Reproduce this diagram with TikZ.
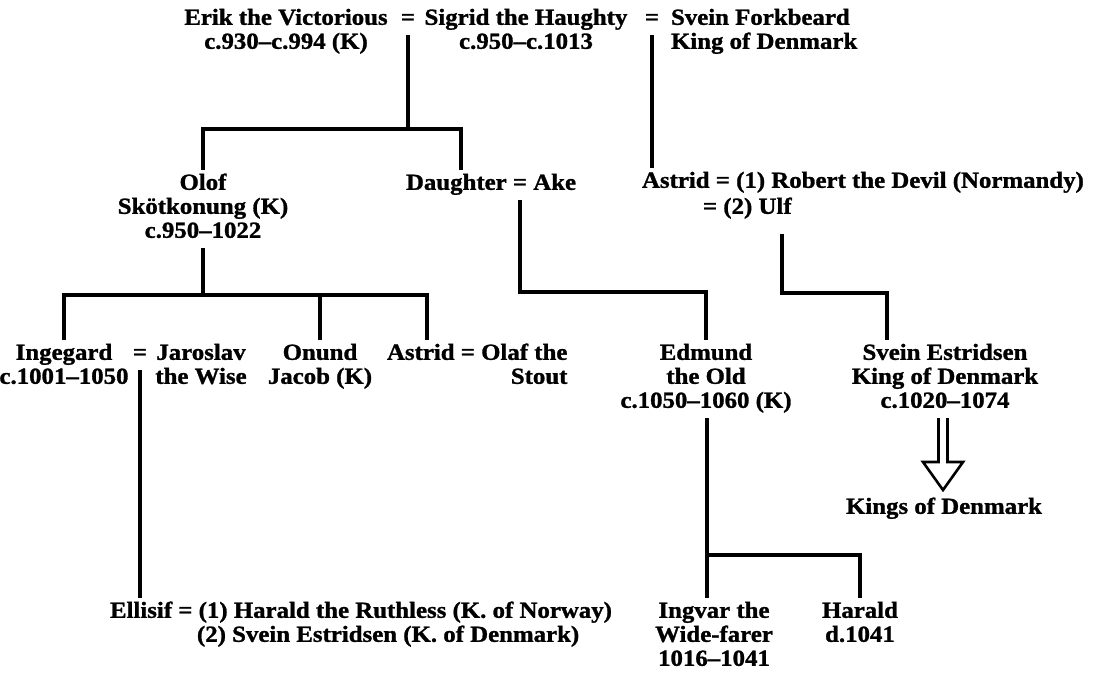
\documentclass[tikz,border=0pt]{standalone}
\usepackage{fontspec}
\setmainfont{Liberation Serif}[FakeStretch=1.08, BoldFeatures={FakeBold=1.2}]
\newcommand\pfont{\fontsize{23}{24}\selectfont\bfseries}
\begin{document}
\begin{tikzpicture}[x=1pt,y=-1pt,
  person/.style={font=\pfont, align=center, inner sep=0pt, outer sep=3pt},
  link/.style={line width=3.4pt, line cap=butt, line join=miter},
  hollow/.style={line width=2.6pt, line cap=butt, line join=miter}
]
\fill[white] (0,0) rectangle (1111,687);
\useasboundingbox (0,0) rectangle (1111,687);

% ---- generation 1
\node[person, anchor=north] (erik) at (286,5) {\strut Erik the Victorious\\c.930–c.994 (K)\strut};
\node[person, anchor=north] (eqES) at (408,5) {\strut=};
\node[person, anchor=north] (sigrid) at (526,5) {\strut Sigrid the Haughty\\c.950–c.1013\strut};
\node[person, anchor=north] (eqSS) at (652,5) {\strut=};
\node[person, anchor=north west, align=left] (svein) at (668,5) {\strut Svein Forkbeard\\King of Denmark};

% ---- generation 2
\node[person, anchor=north] (olof) at (203,170) {\strut Olof\\Skötkonung (K)\\c.950–1022\strut};
\node[person, anchor=north west] (daughter) at (403,170) {\strut Daughter = Ake};
\node[person, anchor=north west] (astridR) at (639,168) {\strut Astrid = (1) Robert the Devil (Normandy)};
\node[person, anchor=north west] (ulf) at (700,194) {\strut = (2) Ulf};

% ---- generation 3
\node[person, anchor=north] (ingegard) at (64,340) {\strut Ingegard\\c.1001–1050\strut};
\node[person, anchor=north] (eqIJ) at (140,340) {\strut=};
\node[person, anchor=north] (jaroslav) at (201,340) {\strut Jaroslav\\the Wise};
\node[person, anchor=north] (onund) at (320,340) {\strut Onund\\Jacob (K)};
\node[person, anchor=north west, align=right] (astridO) at (384,340) {\strut Astrid = Olaf the\\Stout};
\node[person, anchor=north] (edmund) at (706,340) {\strut Edmund\\the Old\\c.1050–1060 (K)\strut};
\node[person, anchor=north] (sveinE) at (945,340) {\strut Svein Estridsen\\King of Denmark\\c.1020–1074\strut};
\node[person, anchor=north] (kings) at (944,494) {\strut Kings of Denmark};

% ---- generation 4
\node[person, anchor=north west] (ellisif) at (107,598) {\strut Ellisif = (1) Harald the Ruthless (K. of Norway)};
\node[person, anchor=north west] (svein2) at (194,622) {\strut (2) Svein Estridsen (K. of Denmark)};
\node[person, anchor=north] (ingvar) at (714,598) {\strut Ingvar the\\Wide-farer\\1016–1041};
\node[person, anchor=north] (harald) at (860,598) {\strut Harald\\d.1041};

% ---- junctions
\coordinate (jA) at (408,129);
\coordinate (dauTop) at (461,170);
\coordinate (jB) at (520,292);
\coordinate (jC) at (203,295);
\coordinate (astOTop) at (427,340);
\coordinate (jD) at (782,293);
\coordinate (seTop) at (887,340);
\coordinate (jE) at (707,555);
\coordinate (arB) at (943,462);
\coordinate (arT) at (943,490);

% ---- connectors
\draw[link] (eqES.south) -- (eqES.south |- jA);
\draw[link] (olof.north) |- (jA) -| (dauTop);
\draw[link] (eqSS.south) -- (eqSS.south |- astridR.north);
\draw[link] (daughter.south -| jB) -- (jB) -| (edmund.north);
\draw[link] (olof.south) -- (jC);
\draw[link] (ingegard.north) |- (jC) -| (astOTop);
\draw[link] (onund.north) -- (onund.north |- jC);
\draw[link, shorten <=10pt] (ulf.south -| jD) -- (jD) -| (seTop);
\draw[link] (eqIJ.south) -- (eqIJ.south |- ellisif.north);
\draw[link] (edmund.south -| jE) -- (jE |- ingvar.north);
\draw[link] (jE) -| (harald.north);

% ---- hollow arrow to the later kings
\draw[hollow] ([xshift=-6.5pt]sveinE.south) -- ([xshift=-4.5pt]arB) -- ([xshift=-20pt]arB) -- (arT)
  -- ([xshift=20pt]arB) -- ([xshift=4.5pt]arB) -- ([xshift=2.5pt]sveinE.south);
\end{tikzpicture}
\end{document}
